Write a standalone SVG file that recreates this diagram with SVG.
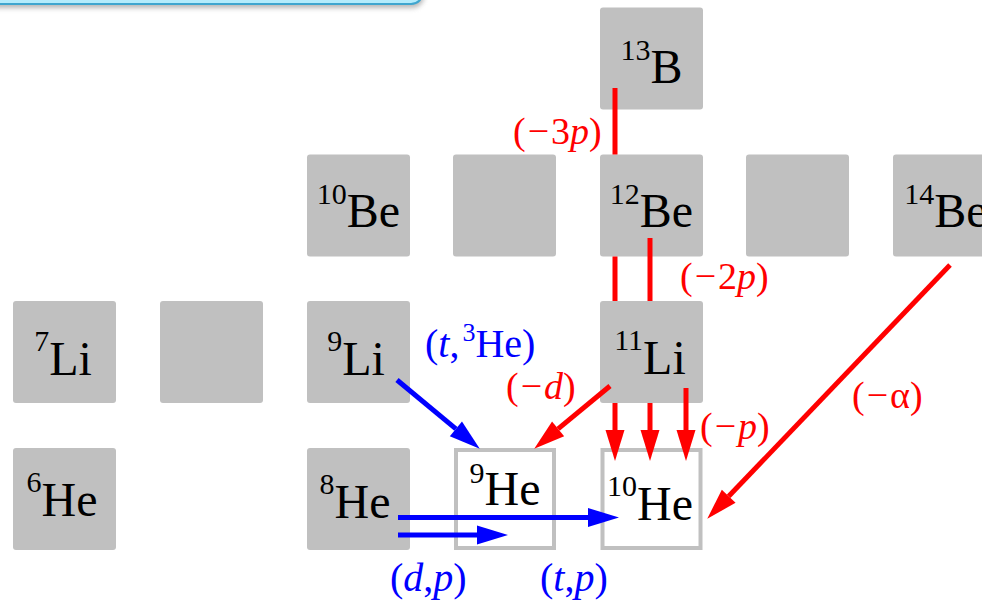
<svg xmlns="http://www.w3.org/2000/svg" width="982" height="602" viewBox="0 0 982 602">
<style>
.box{fill:#c0c0c0}
.wbox{fill:#ffffff;stroke:#c0c0c0;stroke-width:4}
.n{font-family:"Liberation Serif","Times New Roman",serif;font-size:48px;fill:#000;text-anchor:middle}
.sup{font-size:30px}
.lr{font-family:"Liberation Serif","Times New Roman",serif;font-size:38px;fill:#ff0000}
.lb{font-family:"Liberation Serif","Times New Roman",serif;font-size:40px;fill:#0000ff}
.it{font-style:italic}
.red{fill:none;stroke:#ff0000;stroke-width:5}
.blue{fill:none;stroke:#0000ff;stroke-width:5}
</style>
<defs>
<marker id="ahr" markerUnits="userSpaceOnUse" markerWidth="32" markerHeight="20" viewBox="0 -10 32 20" refX="0" refY="0" orient="auto" overflow="visible">
<path d="M0,-9.5 L31,0 L0,9.5 z" fill="#ff0000"/>
</marker>
<marker id="ahb" markerUnits="userSpaceOnUse" markerWidth="32" markerHeight="20" viewBox="0 -10 32 20" refX="0" refY="0" orient="auto" overflow="visible">
<path d="M0,-9.5 L31,0 L0,9.5 z" fill="#0000ff"/>
</marker>
<filter id="sh" x="-10%" y="-50%" width="120%" height="250%">
<feGaussianBlur stdDeviation="2.5"/>
</filter>
</defs>

<g id="banner">
<rect x="-20" y="-38" width="444" height="46" rx="12" fill="#888" opacity="0.6" filter="url(#sh)"/>
<rect x="-20" y="-42" width="443" height="46" rx="12" fill="#b4ecfc" stroke="#3fa6cf" stroke-width="2"/>
</g>

<g id="node-13B"><rect class="box" x="600" y="7.5" width="103" height="102" rx="3"/><text class="n" x="651.5" y="83"><tspan class="sup" dy="-23">13</tspan><tspan dy="23">B</tspan></text></g>

<g id="node-10Be"><rect class="box" x="307" y="154.5" width="103" height="102" rx="3"/><text class="n" x="358.5" y="227"><tspan class="sup" dy="-23">10</tspan><tspan dy="23">Be</tspan></text></g>
<g id="node-empty-r2c4"><rect class="box" x="453" y="154.5" width="103" height="102" rx="3"/></g>
<g id="node-12Be"><rect class="box" x="600" y="154.5" width="103" height="102" rx="3"/><text class="n" x="651.5" y="227"><tspan class="sup" dy="-23">12</tspan><tspan dy="23">Be</tspan></text></g>
<g id="node-empty-r2c6"><rect class="box" x="746" y="154.5" width="103" height="102" rx="3"/></g>
<g id="node-14Be"><rect class="box" x="893" y="154.5" width="103" height="102" rx="3"/><text class="n" x="946" y="227"><tspan class="sup" dy="-23">14</tspan><tspan dy="23">Be</tspan></text></g>

<g id="node-7Li"><rect class="box" x="13" y="301" width="103" height="102" rx="3"/><text class="n" x="63" y="375"><tspan class="sup" dy="-24">7</tspan><tspan dy="24">Li</tspan></text></g>
<g id="node-empty-r3c2"><rect class="box" x="160" y="301" width="103" height="102" rx="3"/></g>
<g id="node-9Li"><rect class="box" x="307" y="301" width="103" height="102" rx="3"/><text class="n" x="356" y="375"><tspan class="sup" dy="-24">9</tspan><tspan dy="24">Li</tspan></text></g>
<g id="node-11Li"><rect class="box" x="600" y="301" width="103" height="102" rx="3"/><text class="n" x="650" y="374"><tspan class="sup" dy="-24">11</tspan><tspan dy="24">Li</tspan></text></g>

<g id="node-6He"><rect class="box" x="13" y="448" width="103" height="102" rx="3"/><text class="n" x="62" y="516"><tspan class="sup" dy="-24">6</tspan><tspan dy="24">He</tspan></text></g>
<g id="node-8He"><rect class="box" x="307" y="448" width="103" height="102" rx="3"/><text class="n" x="355" y="518"><tspan class="sup" dy="-24">8</tspan><tspan dy="24">He</tspan></text></g>
<g id="node-9He"><rect class="wbox" x="456" y="450" width="98" height="98"/><text class="n" x="505" y="505"><tspan class="sup" dy="-22">9</tspan><tspan dy="22">He</tspan></text></g>
<g id="node-10He"><rect class="wbox" x="602.5" y="450" width="98" height="98"/><text class="n" x="650" y="520"><tspan class="sup" dy="-24">10</tspan><tspan dy="24">He</tspan></text></g>

<g id="connectors">
<path class="red" d="M615,88 V154.5 M615,256.5 V301 M615,403 V430" marker-end="url(#ahr)"/>
<path class="red" d="M650,238 V301 M650,403 V430" marker-end="url(#ahr)"/>
<path class="red" d="M686,388 V430" marker-end="url(#ahr)"/>
<path class="red" d="M610,386 L558.1,428.9" marker-end="url(#ahr)"/>
<path class="red" d="M950,265 L728.7,496.3" marker-end="url(#ahr)"/>
<path class="blue" d="M397,380 L455.9,428.9" marker-end="url(#ahb)"/>
<path class="blue" d="M398,517.5 L588,517.5" marker-end="url(#ahb)"/>
<path class="blue" d="M398,535 L477,535" marker-end="url(#ahb)"/>
</g>

<g id="labels">
<text class="lr" x="513" y="144">(<tspan dx="2">−</tspan><tspan dx="2">3</tspan><tspan class="it">p</tspan>)</text>
<text class="lr" x="680" y="289">(<tspan dx="2">−</tspan><tspan dx="2">2</tspan><tspan class="it">p</tspan>)</text>
<text class="lr" x="506" y="399">(<tspan dx="2">−</tspan><tspan dx="2" class="it">d</tspan>)</text>
<text class="lr" x="700" y="439">(<tspan dx="2">−</tspan><tspan dx="2" class="it">p</tspan>)</text>
<text class="lr" x="852" y="408">(<tspan dx="2">−</tspan><tspan dx="2">α</tspan>)</text>
<text class="lb" x="425" y="357">(<tspan class="it">t</tspan>,<tspan font-size="26" dy="-16" dx="3">3</tspan><tspan dy="16">He</tspan>)</text>
<text class="lb" x="390" y="591">(<tspan class="it">d</tspan>,<tspan class="it">p</tspan>)</text>
<text class="lb" x="540" y="591">(<tspan class="it">t</tspan>,<tspan class="it">p</tspan>)</text>
</g>
</svg>
